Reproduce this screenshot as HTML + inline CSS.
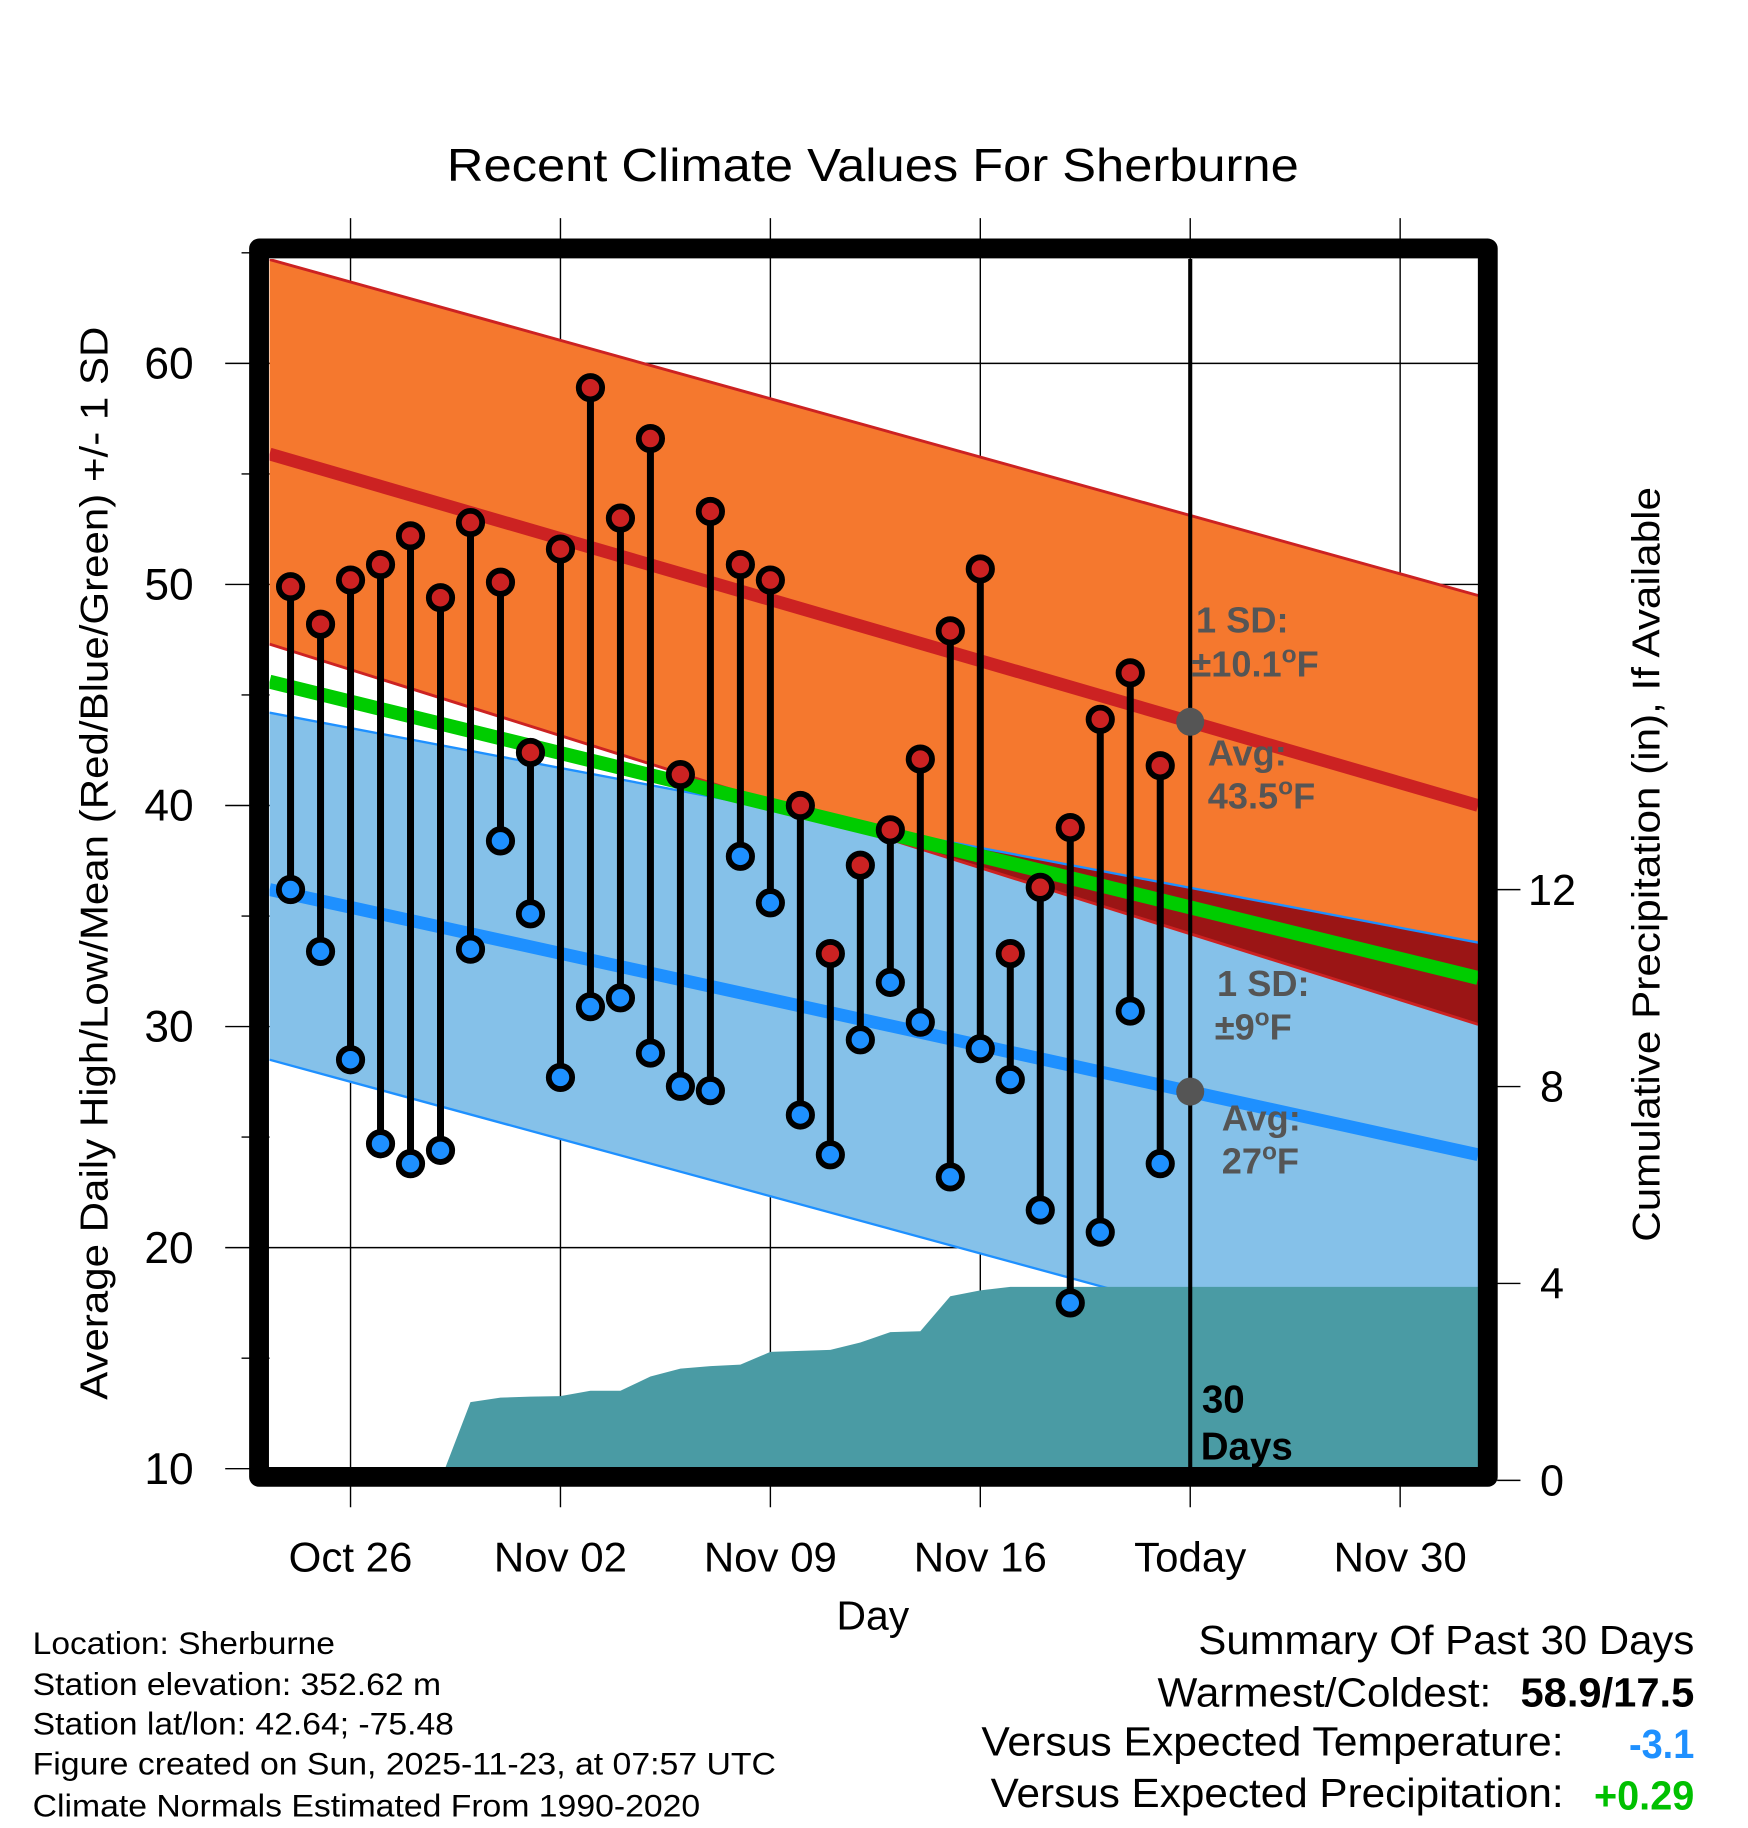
<!DOCTYPE html>
<html><head><meta charset="utf-8"><style>
html,body{margin:0;padding:0;background:#fff}
svg{display:block;font-family:"Liberation Sans",Arial,sans-serif}
</style></head><body>
<svg id="chart" width="1748" height="1828" viewBox="0 0 1498 1567" preserveAspectRatio="none" xmlns="http://www.w3.org/2000/svg">
<defs><clipPath id="plotclip"><rect x="231" y="222" width="1036" height="1036"/></clipPath></defs>
<rect width="1498" height="1567" fill="#fff"/>
<text x="748" y="155" font-size="40" text-anchor="middle" textLength="730" lengthAdjust="spacingAndGlyphs">Recent Climate Values For Sherburne</text>
<g id="grid"></g>
<g id="plot" clip-path="url(#plotclip)"></g>
<g id="axes"></g>
<text transform="translate(92,740) rotate(-90)" font-size="33" text-anchor="middle" textLength="920" lengthAdjust="spacingAndGlyphs">Average Daily High/Low/Mean (Red/Blue/Green) +/- 1 SD</text>
<text transform="translate(1422,741) rotate(-90)" font-size="33" text-anchor="middle" textLength="647" lengthAdjust="spacingAndGlyphs">Cumulative Precipitation (in), If Available</text>
<text x="748" y="1397" font-size="35" text-anchor="middle">Day</text>
<g font-size="27">
<text x="28" y="1418" textLength="259" lengthAdjust="spacingAndGlyphs">Location: Sherburne</text>
<text x="28" y="1453" textLength="350" lengthAdjust="spacingAndGlyphs">Station elevation: 352.62 m</text>
<text x="28" y="1487" textLength="361" lengthAdjust="spacingAndGlyphs">Station lat/lon: 42.64; -75.48</text>
<text x="28" y="1521" textLength="637" lengthAdjust="spacingAndGlyphs">Figure created on Sun, 2025-11-23, at 07:57 UTC</text>
<text x="28" y="1557" textLength="572" lengthAdjust="spacingAndGlyphs">Climate Normals Estimated From 1990-2020</text>
</g>
<g font-size="35">
<text x="1027" y="1418" textLength="425" lengthAdjust="spacingAndGlyphs">Summary Of Past 30 Days</text>
<text x="992" y="1463" textLength="286" lengthAdjust="spacingAndGlyphs">Warmest/Coldest:</text>
<text x="1303" y="1463" font-weight="bold" textLength="149" lengthAdjust="spacingAndGlyphs">58.9/17.5</text>
<text x="841" y="1505" textLength="499" lengthAdjust="spacingAndGlyphs">Versus Expected Temperature:</text>
<text x="1396" y="1507" font-weight="bold" fill="#1E90FF" textLength="56" lengthAdjust="spacingAndGlyphs">-3.1</text>
<text x="849" y="1549" textLength="491" lengthAdjust="spacingAndGlyphs">Versus Expected Precipitation:</text>
<text x="1366" y="1551" font-weight="bold" fill="#00C000" textLength="86" lengthAdjust="spacingAndGlyphs">+0.29</text>
</g>
</svg>
<script>
// day index 0 = Oct 24
const highs = [49.9,48.2,50.2,50.9,52.2,49.4,52.8,50.1,42.4,51.6,58.9,53.0,56.6,41.4,53.3,50.9,50.2,40.0,33.3,37.3,38.9,42.1,47.9,50.7,33.3,36.3,39.0,43.9,46.0,41.8];
const lows  = [36.2,33.4,28.5,24.7,23.8,24.4,33.5,38.4,35.1,27.7,30.9,31.3,28.8,27.3,27.1,37.7,35.6,26.0,24.2,29.4,32.0,30.2,23.2,29.0,27.6,21.7,17.5,20.7,30.7,23.8];
const precip = [0,0,0,0,0,0,1.59,1.68,1.70,1.71,1.82,1.82,2.11,2.27,2.32,2.35,2.61,2.63,2.65,2.80,3.01,3.03,3.74,3.86,3.93,3.93,3.93,3.93,3.93,3.93];
const normDays = [-0.7, 39.6];
const highPlus = [64.7, 49.5];
const highAvg = [55.9, 40.0];
const highMinus = [47.3, 30.1];
const lowPlus = [44.2, 33.8];
const lowAvg = [36.2, 24.2];
const lowMinus = [28.5, 13.6];
const meanAvg = [45.6, 32.2];
const xTickDays = [2, 9, 16, 23, 30, 37];
const xTickLabels = ["Oct 26","Nov 02","Nov 09","Nov 16","Today","Nov 30"];
const yTicks = [10,20,30,40,50,60];
const y2Ticks = [0,4,8,12];
const todayDay = 30;

const NS = "http://www.w3.org/2000/svg";
const X = d => 249 + d * 25.7;
const Y = v => 1259 - (v - 10) * 18.95;
const P = p => 1269 - p * 42.2;
function mk(tag, attrs, parent) {
  const e = document.createElementNS(NS, tag);
  for (const k in attrs) e.setAttribute(k, attrs[k]);
  parent.appendChild(e);
  return e;
}
const plot = document.getElementById('plot');
const grid = document.getElementById('grid');
const axes = document.getElementById('axes');
const pts = arr => arr.map((v,i)=>X(normDays[i])+','+Y(v)).join(' ');
function band(top, bot, fill, name) {
  const s = normDays.map((d,i)=>X(d)+','+Y(top[i])).concat(normDays.slice().reverse().map((d,j)=>{const i=normDays.length-1-j;return X(d)+','+Y(bot[i]);})).join(' ');
  const e = mk('polygon', {points: s, fill: fill}, plot);
  
  
}
band(lowPlus, lowMinus, '#85C1E9', 'low-sd-band');
band(highPlus, highMinus, '#F5782E', 'high-sd-band');
{
  const d0 = highMinus[0]-lowPlus[0], d1 = highMinus[1]-lowPlus[1];
  if (d0*d1 < 0) {
    const t = d0/(d0-d1);
    const dc = normDays[0] + t*(normDays[1]-normDays[0]);
    const vc = highMinus[0] + t*(highMinus[1]-highMinus[0]);
    const s = [X(dc)+','+Y(vc), X(normDays[1])+','+Y(lowPlus[1]), X(normDays[1])+','+Y(highMinus[1])].join(' ');
    const e = mk('polygon', {points: s, fill: '#9B1515'}, plot);
    
    
  }
}
function line(arr, color, w, name) {
  const e = mk('polyline', {points: pts(arr), fill: 'none', stroke: color, 'stroke-width': w}, plot);
  
  
}
line(highPlus, '#CC2222', 2.5, 'high-plus-sd-line');
line(highMinus, '#CC2222', 2.5, 'high-minus-sd-line');
line(lowPlus, '#1E90FF', 2, 'low-plus-sd-line');
line(lowMinus, '#1E90FF', 2, 'low-minus-sd-line');
line(highAvg, '#CC2222', 11, 'high-normal-line');
line(lowAvg, '#1E90FF', 11, 'low-normal-line');
line(meanAvg, '#00CC00', 12, 'mean-normal-line');
// precipitation area (drawn over normals)
{
  let s = X(0)+','+P(0)+' ';
  precip.forEach((p,i)=>{ s += X(i)+','+P(p)+' '; });
  s += X(normDays[1]+1)+','+P(precip[precip.length-1])+' '+X(normDays[1]+1)+','+P(0);
  const e = mk('polygon', {points: s, fill: '#4A9BA4'}, plot);
  
  
}
xTickDays.forEach(d=>{
  const e = mk('line', {x1: X(d), x2: X(d), y1: 187, y2: 1292, stroke: '#000', 'stroke-width': 1.2}, grid);
  
  
});
yTicks.forEach(v=>{
  const e = mk('line', {x1: 193, x2: 1267, y1: Y(v), y2: Y(v), stroke: '#000', 'stroke-width': 1.2}, grid);
  
  
});
[15,25,35,45,55,65].forEach(v=>{
  mk('line', {x1: 207, x2: 231, y1: Y(v), y2: Y(v), stroke: '#000', 'stroke-width': 1.2}, grid);
});
{
  const e = mk('line', {x1: X(todayDay), x2: X(todayDay), y1: 214, y2: 1266, stroke: '#000', 'stroke-width': 3.5}, plot);
  
  
}
highs.forEach((h,i)=>{
  const st = mk('line', {x1: X(i), x2: X(i), y1: Y(h), y2: Y(lows[i]), stroke: '#000', 'stroke-width': 6}, plot);
  
  
});
highs.forEach((h,i)=>{
  const c = mk('circle', {cx: X(i), cy: Y(h), r: 10, fill: '#CC2222', stroke: '#000', 'stroke-width': 5}, plot);
  
  
  const c2 = mk('circle', {cx: X(i), cy: Y(lows[i]), r: 10, fill: '#1E90FF', stroke: '#000', 'stroke-width': 5}, plot);
  
  
});
{
  const hv = highAvg[0] + (todayDay-normDays[0])/(normDays[1]-normDays[0])*(highAvg[1]-highAvg[0]);
  const lv = lowAvg[0] + (todayDay-normDays[0])/(normDays[1]-normDays[0])*(lowAvg[1]-lowAvg[0]);
  const a = mk('circle', {cx: X(todayDay), cy: Y(hv), r: 12, fill: '#555'}, plot);
  
  
  const b = mk('circle', {cx: X(todayDay), cy: Y(lv), r: 12, fill: '#555'}, plot);
  
  
}
function ann(x, y, html, name, fill, fs) {
  const t = mk('text', {x: x, y: y, 'font-size': fs||31, 'font-weight': 'bold', fill: fill||'#555'}, plot);
  t.innerHTML = html;
  
  
}
const deg = '<tspan dy="-12" font-size="21">o</tspan><tspan dy="12">F</tspan>';
ann(1025, 542, '1 SD:', 'high-sd-label');
ann(1021, 580, '±10.1' + deg, 'high-sd-value');
ann(1035, 656, 'Avg:', 'high-avg-label');
ann(1035, 693, '43.5' + deg, 'high-avg-value');
ann(1043, 854, '1 SD:', 'low-sd-label');
ann(1041, 891, '±9' + deg, 'low-sd-value');
ann(1047, 969, 'Avg:', 'low-avg-label');
ann(1047, 1006, '27' + deg, 'low-avg-value');
ann(1030, 1211, '30', 'days-label', '#000', 33);
ann(1029, 1251, 'Days', 'days-label-2', '#000', 33);
{
  const f = mk('rect', {x: 222, y: 213, width: 1053, height: 1053, fill: 'none', stroke: '#000', 'stroke-width': 17, 'stroke-linejoin': 'round'}, axes);
  
  
}
yTicks.forEach(v=>{
  const t = mk('text', {x: 166, y: Y(v)+13, 'font-size': 38, 'text-anchor': 'end'}, axes);
  t.textContent = v;
  
  
});
y2Ticks.forEach(p=>{
  mk('line', {x1: 1283, x2: 1303, y1: P(p), y2: P(p), stroke: '#000', 'stroke-width': 1.2}, axes);
  const t = mk('text', {x: 1330, y: P(p)+13, 'font-size': 37, 'text-anchor': 'middle'}, axes);
  t.textContent = p;
  
  
});
xTickDays.forEach((d,i)=>{
  const t = mk('text', {x: X(d), y: 1347, 'font-size': 36, 'text-anchor': 'middle'}, axes);
  t.textContent = xTickLabels[i];
  
  
});
</script>
</body></html>
